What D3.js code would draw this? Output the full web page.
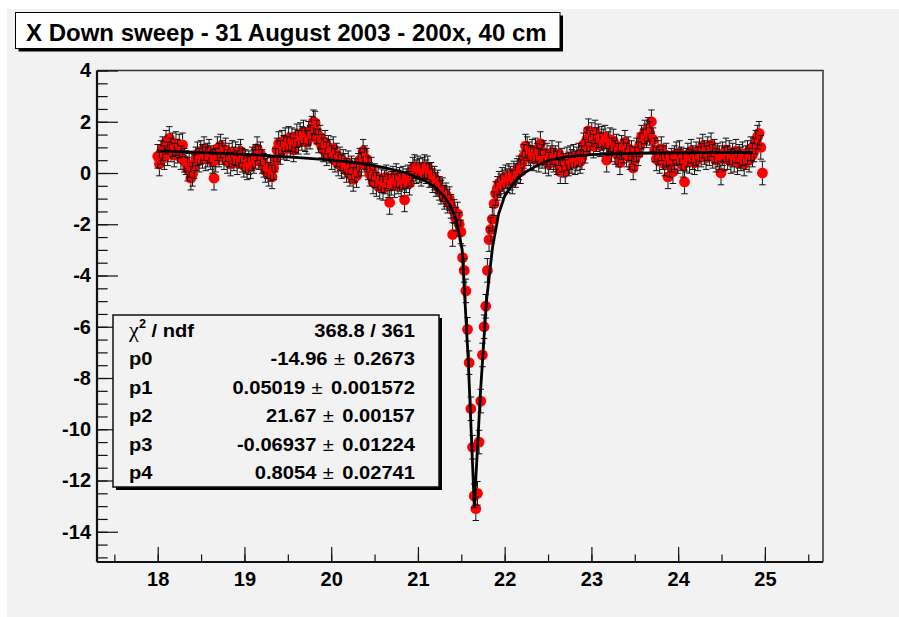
<!DOCTYPE html>
<html>
<head>
<meta charset="utf-8">
<script src="https://cdn.jsdelivr.net/npm/d3@7"></script>
<style>
    body { margin: 0; background: #fff; }
    svg text { font-family: "Liberation Sans", Arial, Helvetica, sans-serif; font-weight: bold; fill: #000; }
</style>
</head>
<body>
<div id="chart"></div>
<script>
const titleText = "X Down sweep - 31 August 2003 - 200x, 40 cm";

// sweep positions: first point and step of the scan
const sweepStart = 18.0;
const sweepStep = 0.0191;
const yError = 0.46;

const yValues = [
    0.65, 0.35, 0.8, 0.95, 0.6, 1.2, 0.75, 1.35, 0.9, 1.1, 0.7, 1.15, 0.85, 1.05, 0.6, 1.1, 0.5, 0.4, 0.15, 0.3,
    -0.2, -0.05, 0.25, 0.55, 0.75, 0.5, 0.8, 0.65, 0.95, 0.55, 0.7, 0.85, 0.6, 0.45, -0.2, 0.5, 0.95, 0.7, 1.05, 0.8,
    0.6, 0.9, 0.45, 0.7, 0.35, 0.8, 0.55, 0.75, 0.4, 0.65, 0.85, 0.5, 0.3, 0.45, 0.2, 0.4, 0.25, 0.55, 0.45, 0.65,
    0.95, 0.6, 0.75, 0.45, 0.3, 0.1, 0.25, -0.05, 0.15, -0.15, 0.2, 0.5, 0.9, 1.15, 0.8, 1.2, 1.0, 1.3, 0.95, 1.35,
    1.1, 1.3, 0.9, 1.25, 1.45, 1.2, 1.5, 1.35, 1.6, 1.3, 1.2, 1.55, 1.4, 1.75, 2.0, 1.95, 1.6, 1.25, 1.4, 1.05,
    0.9, 1.2, 0.75, 1.0, 0.85, 0.6, 0.95, 0.5, 0.7, 0.35, 0.55, 0.25, 0.45, 0.3, 0.1, 0.4, -0.05, 0.2, -0.25, 0.1,
    -0.1, 0.3, 0.5, 0.35, 0.85, 0.6, 0.5, 0.2, -0.05, 0.15, -0.35, -0.1, -0.45, -0.2, -0.55, -0.3, -0.6, -0.35, -0.15, -0.5,
    -1.15, -0.4, -0.2, -0.5, -0.1, -0.35, -0.25, -0.45, -0.2, -1.05, -0.3, -0.15, -0.4, -0.05, 0.15, 0.25, 0.05, 0.2, 0.1, -0.05,
    0.15, 0.25, 0.05, 0.2, -0.1, -0.05, -0.3, -0.2, -0.45, -0.35, -0.6, -0.75, -0.65, -0.95, -0.85, -1.1, -1.0, -1.3, -2.4, -1.5,
    -1.8, -1.6, -2.0, -2.3, -3.3, -3.8, -4.6, -6.1, -7.4, -9.2, -10.7, -12.6, -13.1, -12.5, -10.5, -8.9, -7.1, -6.0, -5.2, -3.8,
    -2.6, -2.2, -1.8, -1.2, -0.8, -0.6, -0.4, -0.5, -0.25, -0.35, -0.15, -0.3, -0.1, -0.2, -0.35, 0.0, -0.1, 0.1, 0.2, 0.05,
    0.4, 0.65, 1.05, 0.95, 0.75, 0.6, 0.85, 0.55, 0.9, 0.7, 0.5, 1.15, 0.65, 0.8, 0.45, 0.7, 0.35, 0.6, 0.8, 0.5,
    0.6, 0.4, 0.75, 0.05, 0.5, 0.3, 0.05, 0.55, 0.35, 0.6, 0.45, 0.65, 0.4, 0.55, 0.7, 0.45, 0.6, 1.1, 0.85, 1.3,
    1.65, 1.2, 1.5, 1.05, 1.6, 1.3, 1.45, 1.1, 1.35, 1.25, 1.4, 0.5, 1.15, 1.3, 0.9, 1.25, 0.8, 1.05, 0.7, 0.4,
    1.0, 0.85, 1.2, 0.7, 0.95, 0.6, 0.8, 0.2, 0.55, 0.9, 0.75, 1.1, 1.4, 1.25, 1.6, 1.45, 1.7, 1.55, 2.0, 1.3,
    0.9, 0.55, 0.8, 0.45, 0.95, 0.6, 0.35, 0.7, -0.15, 0.3, 0.5, 0.05, 0.6, 0.75, 0.45, 0.8, 0.55, 0.3, -0.35, 0.5,
    0.7, 0.45, 0.85, 0.6, 0.4, 0.75, 0.55, 0.9, 0.7, 1.05, 0.8, 0.6, 0.95, 0.75, 1.1, 0.65, 0.85, 0.5, 0.7, 0.6,
    0.0, 0.75, 0.55, 0.9, 0.6, 0.8, 0.45, 0.7, 0.5, 0.85, 0.4, 0.65, 0.55, 0.75, 0.35, 0.6, 0.8, 0.5, 0.95, 0.7,
    0.9, 1.2, 1.4, 1.55, 1.0, 0.0
];

// fitted curve as drawn (polyline vertices)
const fitX = [18.0, 18.5, 19.0, 19.5, 19.9, 20.3, 20.6, 20.85, 21.05, 21.2, 21.3, 21.37, 21.44, 21.51, 21.58,
    21.65, 21.72, 21.79, 21.86, 21.93, 22.0, 22.1, 22.2, 22.35, 22.5, 22.7, 23.0, 23.5, 24.0, 24.5, 24.86];
const fitY = [0.86, 0.80, 0.73, 0.63, 0.53, 0.40, 0.22, 0.02, -0.25, -0.55, -0.9, -1.25, -1.8, -3.0, -7.3,
    -13.03, -8.6, -5.0, -2.9, -1.6, -0.9, -0.4, -0.05, 0.25, 0.48, 0.63, 0.72, 0.77, 0.79, 0.8, 0.8];

const xTicks = [18, 19, 20, 21, 22, 23, 24, 25];
const yTicks = [4, 2, 0, -2, -4, -6, -8, -10, -12, -14];

const chiLabel = "368.8 / 361";
const parNames = ["p0", "p1", "p2", "p3", "p4"];
const parValues = ["-14.96", "0.05019", "21.67", "-0.06937", "0.8054"];
const parErrors = ["0.2673", "0.001572", "0.00157", "0.01224", "0.02741"];

const width = 899, height = 617;
const frame = {left: 97, right: 823, top: 70.5, bottom: 562};

const x = d3.scaleLinear().domain([17.3, 25.67]).range([frame.left, frame.right]);
const y = d3.scaleLinear().domain([-15.18, 4]).range([frame.bottom, frame.top]);

const points = yValues.map((v, i) => ({x: sweepStart + i * sweepStep, y: v}));

const svg = d3.select("#chart").append("svg")
    .attr("width", width)
    .attr("height", height);

svg.append("rect")
    .attr("x", 7).attr("y", 9)
    .attr("width", width - 7).attr("height", height - 9)
    .attr("fill", "#f2f2f2");

svg.append("clipPath").attr("id", "frame-clip")
    .append("rect")
    .attr("x", frame.left).attr("y", frame.top)
    .attr("width", frame.right - frame.left)
    .attr("height", frame.bottom - frame.top);

// frame top / right
svg.append("path")
    .attr("d", `M${frame.left},${frame.top}H${frame.right}V${frame.bottom}`)
    .attr("fill", "none")
    .attr("stroke", "#333")
    .attr("stroke-width", 1.5);

// minor ticks
svg.append("g")
    .attr("transform", `translate(${frame.left},0)`)
    .call(d3.axisLeft(y).tickValues(d3.range(-15, 4.01, 0.5)).tickSize(-10.7).tickSizeOuter(0).tickFormat(""))
    .call(g => g.select(".domain").remove());

svg.append("g")
    .attr("transform", `translate(0,${frame.bottom})`)
    .call(d3.axisBottom(x).tickValues(d3.range(17.5, 25.6, 0.5)).tickSize(-7.5).tickSizeOuter(0).tickFormat(""))
    .call(g => g.select(".domain").remove());

const yAxis = svg.append("g")
    .attr("transform", `translate(${frame.left},0)`)
    .call(d3.axisLeft(y).tickValues(yTicks).tickSize(-21).tickSizeOuter(0).tickPadding(6).tickFormat(d => String(d)));

const xAxis = svg.append("g")
    .attr("transform", `translate(0,${frame.bottom})`)
    .call(d3.axisBottom(x).tickValues(xTicks).tickSize(-15).tickSizeOuter(0).tickPadding(9.5).tickFormat(d => String(d)));

svg.selectAll(".tick line").attr("stroke", "#111").attr("stroke-width", 1.2);
[xAxis, yAxis].forEach(g => {
    g.select(".domain").attr("stroke", "#111").attr("stroke-width", 2.2);
    g.selectAll("text").attr("font-size", 20).attr("font-family", null);
});
xAxis.select(".domain").attr("d", `M${frame.left},0H${frame.right}`);
yAxis.select(".domain").attr("d", `M0,${frame.bottom}V${frame.top}`);

// data points
const plot = svg.append("g").attr("clip-path", "url(#frame-clip)");
const r = 5.4, cap = 3.2;

plot.append("g")
    .attr("fill", "#ff0000")
    .selectAll("circle")
    .data(points)
    .join("circle")
    .attr("cx", d => x(d.x))
    .attr("cy", d => y(d.y))
    .attr("r", r);

plot.append("path")
    .attr("fill", "none")
    .attr("stroke", "#111")
    .attr("stroke-width", 1)
    .attr("d", points.map(d => {
        const px = x(d.x), py = y(d.y);
        const top = y(d.y + yError), bot = y(d.y - yError);
        return `M${px},${py - r}V${top}M${px - cap},${top}H${px + cap}` +
            `M${px},${py + r}V${bot}M${px - cap},${bot}H${px + cap}`;
    }).join(""));

plot.append("path")
    .datum(fitX.map((v, i) => [v, fitY[i]]))
    .attr("fill", "none")
    .attr("stroke", "#000")
    .attr("stroke-width", 2.8)
    .attr("stroke-linejoin", "round")
    .attr("d", d3.line().x(d => x(d[0])).y(d => y(d[1])));

// title box
const title = svg.append("g");
title.append("rect")
    .attr("x", 18.5).attr("y", 15.5)
    .attr("width", 544.5).attr("height", 36)
    .attr("fill", "#000");
title.append("rect")
    .attr("x", 15.5).attr("y", 12.5)
    .attr("width", 544.5).attr("height", 36)
    .attr("fill", "#fff")
    .attr("stroke", "#000")
    .attr("stroke-width", 1);
title.append("text")
    .attr("x", 26).attr("y", 41.3)
    .attr("font-size", 24)
    .text(titleText);

// fit statistics box
const stats = svg.append("g");
const box = {x: 113, y: 315, w: 326, h: 172};
stats.append("rect")
    .attr("x", box.x + 3).attr("y", box.y + 3)
    .attr("width", box.w).attr("height", box.h)
    .attr("fill", "#000");
stats.append("rect")
    .attr("x", box.x).attr("y", box.y)
    .attr("width", box.w).attr("height", box.h)
    .attr("fill", "#f2f2f2")
    .attr("stroke", "#111")
    .attr("stroke-width", 1.5);

const rowY = i => 336.5 + i * 28.5;
const sx = 1.06, fs = 19;

const chiRow = stats.append("text")
    .attr("transform", `translate(129,${rowY(0)}) scale(${sx},1)`)
    .attr("font-size", fs);
chiRow.append("tspan")
    .attr("font-family", "'Liberation Serif', serif")
    .attr("font-weight", "normal")
    .attr("font-size", 21)
    .text("χ");
chiRow.append("tspan").attr("font-size", 12).attr("dy", -9).text("2");
chiRow.append("tspan").attr("dy", 9).text(" / ndf");

stats.append("text")
    .attr("transform", `translate(415,${rowY(0)}) scale(${sx},1)`)
    .attr("font-size", fs)
    .attr("text-anchor", "end")
    .text(chiLabel);

parNames.forEach((name, i) => {
    stats.append("text")
        .attr("transform", `translate(129,${rowY(i + 1)}) scale(${sx},1)`)
        .attr("font-size", fs)
        .text(name);
    const t = stats.append("text")
        .attr("transform", `translate(415,${rowY(i + 1)}) scale(${sx},1)`)
        .attr("font-size", fs)
        .attr("text-anchor", "end");
    t.append("tspan").text(parValues[i]);
    t.append("tspan").attr("dx", 6).attr("font-weight", "normal").text("±");
    t.append("tspan").attr("dx", 8).text(parErrors[i]);
});
</script>
</body>
</html>
